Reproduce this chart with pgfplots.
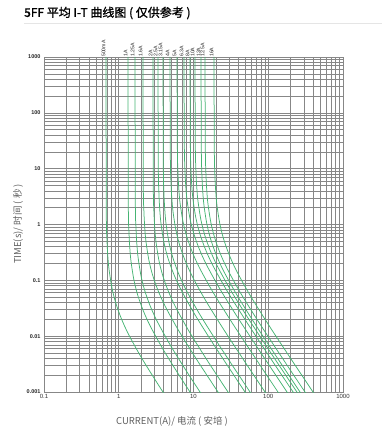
\documentclass[border=0pt]{standalone}
\usepackage{fontspec}
\setmainfont{Liberation Sans}
\newfontfamily\cjk{Noto Sans CJK SC}
\newfontfamily\cjkb{Noto Sans CJK SC}[FakeBold=1.2]
\usepackage{pgfplots}
\pgfplotsset{compat=1.18}
\definecolor{fuse}{RGB}{70,180,115}
\definecolor{gridc}{RGB}{135,135,135}
\definecolor{labc}{RGB}{95,95,95}
\tikzset{lbl/.style={rotate=90, anchor=west, inner sep=0pt, yshift=2.5pt, font=\fontsize{5.2}{6}\selectfont, text=black!85}}
\pgfplotsset{fc/.style={color=fuse, line width=0.75pt, smooth, mark=none, solid}}
\begin{document}
\begin{tikzpicture}
\useasboundingbox (0pt,0pt) rectangle (382pt,428pt);
\node[anchor=west, inner sep=0pt, font=\cjkb\fontsize{12}{14}\selectfont] at (24pt,415pt) {5FF 平均 I-T 曲线图 ( 仅供参考 )};
\draw[black!10, line width=0.6pt] (24pt,405pt) -- (382pt,405pt);
\node[font=\cjk\fontsize{9.5}{11}\selectfont, text=labc] at (172pt,7pt) {CURRENT(A)/ 电流 ( 安培 )};
\node[rotate=90, font=\cjk\fontsize{9.5}{11}\selectfont, text=labc] at (18pt,204pt) {TIME(s)/ 时间 ( 秒 )};
\begin{axis}[at={(44pt,36pt)}, anchor=south west, scale only axis, width=299pt, height=335pt,
  xmode=log, ymode=log, xmin=0.1, xmax=1000, ymin=0.001, ymax=1000,
  clip mode=individual,
  grid=both, major grid style={gridc, line width=0.65pt}, minor grid style={gridc, line width=0.55pt},
  axis line style={gridc, line width=0.65pt}, tick style={draw=none},
  xtick={0.1,1,10,100,1000}, xticklabels={0.1,1,10,100,1000},
  ytick={0.001,0.01,0.1,1,10,100,1000}, yticklabels={0.001,0.01,0.1,1,10,100,1000},
  minor xtick={0.2,0.3,0.4,0.5,0.6,0.7,0.8,0.9,2,3,4,5,6,7,8,9,20,30,40,50,60,70,80,90,200,300,400,500,600,700,800,900},
  minor ytick={0.002,0.003,0.004,0.005,0.006,0.007,0.008,0.009,0.02,0.03,0.04,0.05,0.06,0.07,0.08,0.09,0.2,0.3,0.4,0.5,0.6,0.7,0.8,0.9,2,3,4,5,6,7,8,9,20,30,40,50,60,70,80,90,200,300,400,500,600,700,800,900},
  xticklabel style={font=\fontsize{6}{7}\selectfont, text=black!80, yshift=1pt},
  yticklabel style={font=\bfseries\fontsize{5.5}{6}\selectfont, text=black!85},
]
% 500mA
\addplot[fc] coordinates {(0.675,1000)(0.6818,1.617)(0.6953,0.5337)(0.7155,0.263)(0.7425,0.1548)(0.81,0.07387)(0.9113,0.03952)(1.08,0.02083)(1.35,0.01083)(2.025,0.004063)(3.375,0.001354)(5.4,0.000516)};
% 1A
\addplot[fc] coordinates {(1.33,1000)(1.3433,2.219)(1.3699,0.7323)(1.4098,0.3609)(1.463,0.2124)(1.596,0.1014)(1.7955,0.05423)(2.128,0.02859)(2.66,0.01487)(3.99,0.005575)(6.65,0.001858)(10.64,0.000708)};
% 1.25A
\addplot[fc] coordinates {(1.65,1000)(1.6665,2.682)(1.6995,0.885)(1.749,0.4361)(1.815,0.2567)(1.98,0.1225)(2.2275,0.06554)(2.64,0.03455)(3.3,0.01797)(4.95,0.006738)(8.25,0.002246)(13.2,0.000855)};
% 1.6A
\addplot[fc] coordinates {(2.11,1000)(2.1311,5.005)(2.1733,1.652)(2.2366,0.814)(2.321,0.479)(2.532,0.2287)(2.8485,0.1223)(3.376,0.06449)(4.22,0.03353)(6.33,0.01258)(10.55,0.004192)(16.88,0.001597)(29.54,0.000516)};
% 2A
\addplot[fc] coordinates {(2.87,1000)(2.8987,5.005)(2.9561,1.652)(3.0422,0.814)(3.157,0.479)(3.444,0.2287)(3.8745,0.1223)(4.592,0.06449)(5.74,0.03353)(8.61,0.01258)(14.35,0.004192)(22.96,0.001597)(40.18,0.000516)};
% 2.5A
\addplot[fc] coordinates {(3.35,1000)(3.3835,10.55)(3.4505,3.481)(3.551,1.715)(3.685,1.01)(4.02,0.4819)(4.5225,0.2578)(5.36,0.1359)(6.7,0.07066)(10.05,0.0265)(16.75,0.008834)(26.8,0.003364)(46.9,0.001087)(83.75,0.00034)};
% 3.15A
\addplot[fc] coordinates {(3.91,1000)(3.9491,10.55)(4.0273,3.481)(4.1446,1.715)(4.301,1.01)(4.692,0.4819)(5.2785,0.2578)(6.256,0.1359)(7.82,0.07066)(11.73,0.0265)(19.55,0.008834)(31.28,0.003364)(54.74,0.001087)(97.75,0.00034)};
% 4A
\addplot[fc] coordinates {(4.85,1000)(4.8985,17.26)(4.9955,5.698)(5.141,2.808)(5.335,1.652)(5.82,0.7887)(6.5475,0.422)(7.76,0.2224)(9.7,0.1157)(14.55,0.04338)(24.25,0.01446)(38.8,0.005507)(67.9,0.001779)(121.25,0.000556)};
% 5A
\addplot[fc] coordinates {(6.02,1000)(6.0802,24.92)(6.2006,8.226)(6.3812,4.054)(6.622,2.386)(7.224,1.139)(8.127,0.6092)(9.632,0.3211)(12.04,0.167)(18.06,0.06263)(30.1,0.02088)(48.16,0.007951)(84.28,0.002569)(150.5,0.000803)};
% 6.3A
\addplot[fc] coordinates {(7.46,1000)(7.5346,28.36)(7.6838,9.359)(7.9076,4.612)(8.206,2.714)(8.952,1.296)(10.071,0.6931)(11.936,0.3654)(14.92,0.19)(22.38,0.07125)(37.3,0.02375)(59.68,0.009046)(104.44,0.002923)(186.5,0.000914)(300,0.00035)};
% 8A
\addplot[fc] coordinates {(8.98,1000)(9.0698,28.36)(9.2494,9.359)(9.5188,4.612)(9.878,2.714)(10.776,1.296)(12.123,0.6931)(14.368,0.3654)(17.96,0.19)(26.94,0.07125)(44.9,0.02375)(71.84,0.009046)(125.72,0.002923)(224.5,0.000914)(360,0.00035)};
% 10A
\addplot[fc] coordinates {(10.47,1000)(10.5747,26.52)(10.7841,8.752)(11.0982,4.313)(11.517,2.538)(12.564,1.212)(14.1345,0.6481)(16.752,0.3417)(20.94,0.1776)(31.41,0.06663)(52.35,0.02221)(83.76,0.008459)(146.58,0.002733)(261.75,0.000854)(420,0.00033)};
% 12A
\addplot[fc] coordinates {(12.6,1000)(12.726,22.14)(12.978,7.307)(13.356,3.6)(13.86,2.119)(15.12,1.011)(17.01,0.5411)(20.16,0.2852)(25.2,0.1483)(37.8,0.05563)(63,0.01854)(100.8,0.007062)(176.4,0.002282)(315,0.000713)};
% 12.5A
\addplot[fc] coordinates {(14.25,1000)(14.3925,23.48)(14.6775,7.75)(15.105,3.819)(15.675,2.248)(17.1,1.073)(19.2375,0.574)(22.8,0.3026)(28.5,0.1573)(42.75,0.059)(71.25,0.01967)(114,0.007491)(199.5,0.00242)(356.25,0.000757)};
% 16A
\addplot[fc] coordinates {(18.8,1000)(18.988,22.14)(19.364,7.307)(19.928,3.6)(20.68,2.119)(22.56,1.011)(25.38,0.5411)(30.08,0.2852)(37.6,0.1483)(56.4,0.05563)(94,0.01854)(150.4,0.007062)(263.2,0.002282)(470,0.000713)};
% labels
\node[lbl] at (axis cs:0.675,1000) {500mA};
\node[lbl] at (axis cs:1.33,1000) {1A};
\node[lbl] at (axis cs:1.65,1000) {1.25A};
\node[lbl] at (axis cs:2.11,1000) {1.6A};
\node[lbl] at (axis cs:2.87,1000) {2A};
\node[lbl] at (axis cs:3.35,1000) {2.5A};
\node[lbl] at (axis cs:3.91,1000) {3.15A};
\node[lbl] at (axis cs:4.85,1000) {4A};
\node[lbl] at (axis cs:6.02,1000) {5A};
\node[lbl] at (axis cs:7.46,1000) {6.3A};
\node[lbl] at (axis cs:8.98,1000) {8A};
\node[lbl] at (axis cs:10.47,1000) {10A};
\node[lbl] at (axis cs:12.6,1000) {12A};
\node[lbl] at (axis cs:14.25,1000) {12.5A};
\node[lbl] at (axis cs:18.8,1000) {16A};
\end{axis}
\end{tikzpicture}
\end{document}
